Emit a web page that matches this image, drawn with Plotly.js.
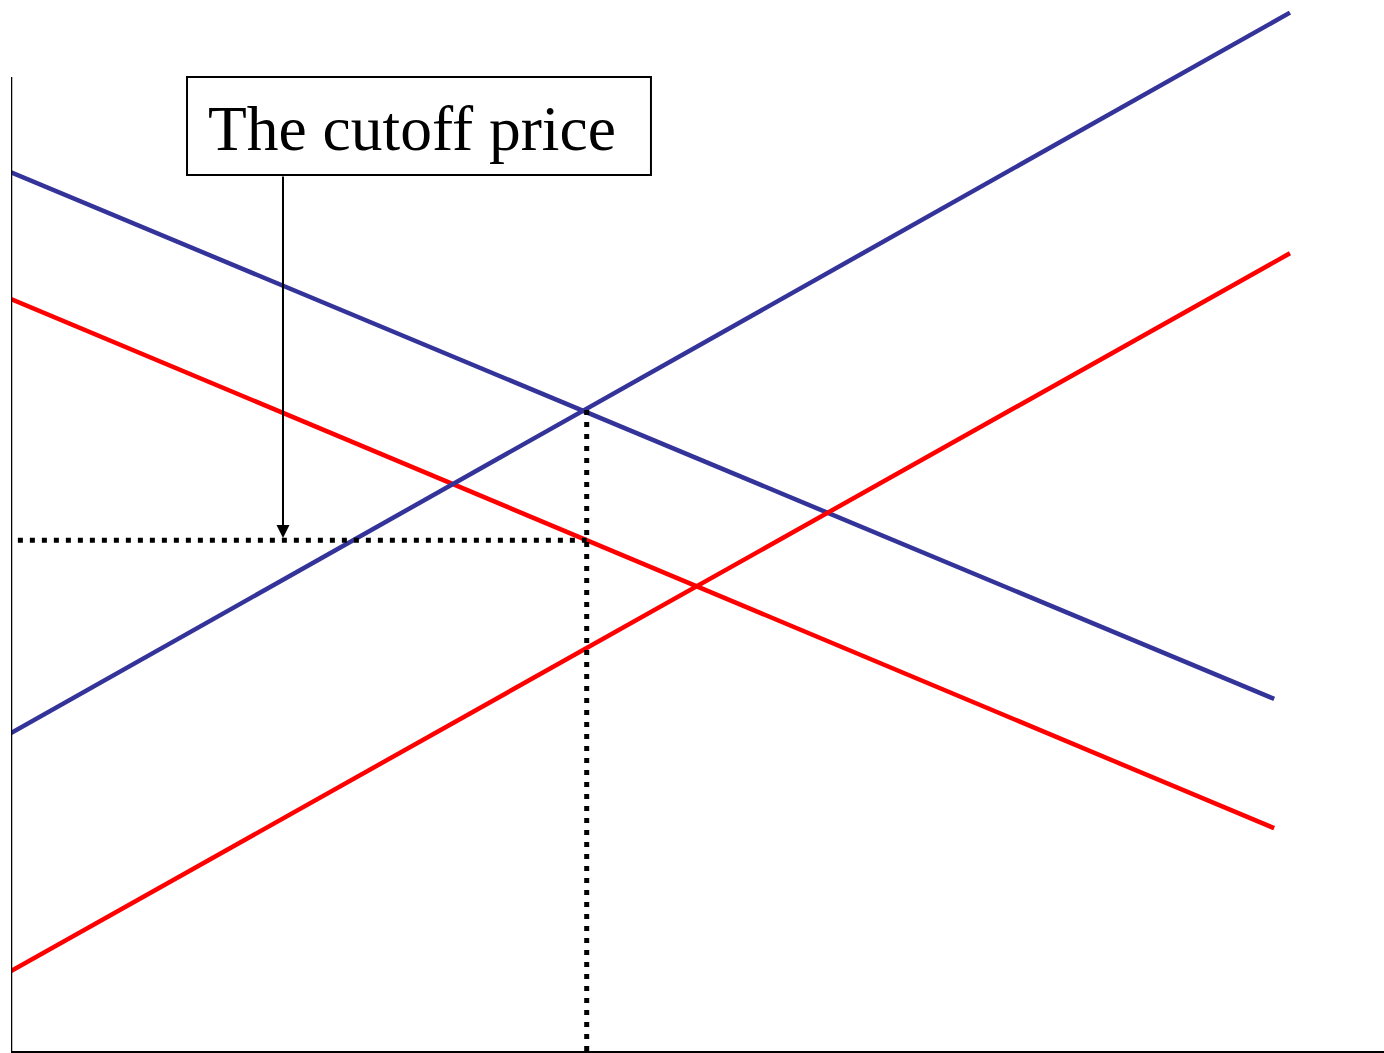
<!DOCTYPE html>
<html>
<head>
<meta charset="utf-8">
<script src="https://cdn.plot.ly/plotly-3.0.1.min.js"></script>
<style>html,body{margin:0;padding:0;background:#fff;}#chart{width:1384px;height:1053px;}</style>
</head>
<body>
<div id="chart"></div>
<script>
// Data (abstract quantity / price units)
const demandQuantity = [0, 92.0];
const supplyQuantity = [0, 93.15];
const demandBlue = [83.6, 33.5];
const demandRed = [71.55, 21.2];
const supplyBlue = [30.26, 98.8];
const supplyRed = [7.6, 75.9];
const cutoffQuantity = [0.5, 41.93];
const cutoffPrice = [48.6, 48.6];
const marginalQuantity = [41.93, 41.93];
const marginalPrice = [0, 61.0];
const annotationText = "The cutoff price";

const BLUE = '#333399', RED = '#FF0000';
const traces = [
  {x: demandQuantity, y: demandBlue, mode: 'lines', line: {color: BLUE, width: 4.5}},
  {x: demandQuantity, y: demandRed, mode: 'lines', line: {color: RED, width: 4.5}},
  {x: supplyQuantity, y: supplyBlue, mode: 'lines', line: {color: BLUE, width: 4.5}},
  {x: supplyQuantity, y: supplyRed, mode: 'lines', line: {color: RED, width: 4.5}},
  {x: cutoffQuantity, y: cutoffPrice, mode: 'lines', line: {color: '#000', width: 5, dash: '5px,7px'}},
  {x: marginalQuantity, y: marginalPrice, mode: 'lines', line: {color: '#000', width: 5, dash: '5px,7px'}}
];

const layout = {
  width: 1384, height: 1053,
  margin: {l: 11, r: 0, t: 0, b: 2, pad: 0},
  paper_bgcolor: '#fff', plot_bgcolor: '#fff',
  showlegend: false,
  xaxis: {range: [0, 100], showgrid: false, zeroline: false, showticklabels: false, ticks: '',
          showline: true, linecolor: '#000', linewidth: 2, fixedrange: true},
  yaxis: {range: [0, 100], showgrid: false, zeroline: false, showticklabels: false, ticks: '',
          showline: false, fixedrange: true},
  shapes: [
    {type: 'line', xref: 'x', yref: 'y', x0: 0, x1: 0, y0: 0, y1: 92.67, line: {color: '#000', width: 2.5}},
    {type: 'rect', xref: 'x', yref: 'y', x0: 12.82, x1: 46.61, y0: 83.35, y1: 92.67, line: {color: '#000', width: 2}, fillcolor: 'rgba(0,0,0,0)'}
  ],
  annotations: [
    {xref: 'x', yref: 'y', x: 29.2, y: 87.73, xanchor: 'center', yanchor: 'middle', showarrow: false,
     text: annotationText, font: {family: 'Liberation Serif, Times New Roman, serif', size: 63.5, color: '#000'}, borderpad: 0},
    {xref: 'x', yref: 'y', axref: 'x', ayref: 'y', x: 19.81, y: 48.8, ax: 19.81, ay: 83.35, text: '',
     showarrow: true, arrowhead: 2, arrowsize: 1.3, arrowwidth: 2, arrowcolor: '#000', standoff: 0}
  ]
};
Plotly.newPlot('chart', traces, layout, {staticPlot: true, displayModeBar: false});
</script>
</body>
</html>
